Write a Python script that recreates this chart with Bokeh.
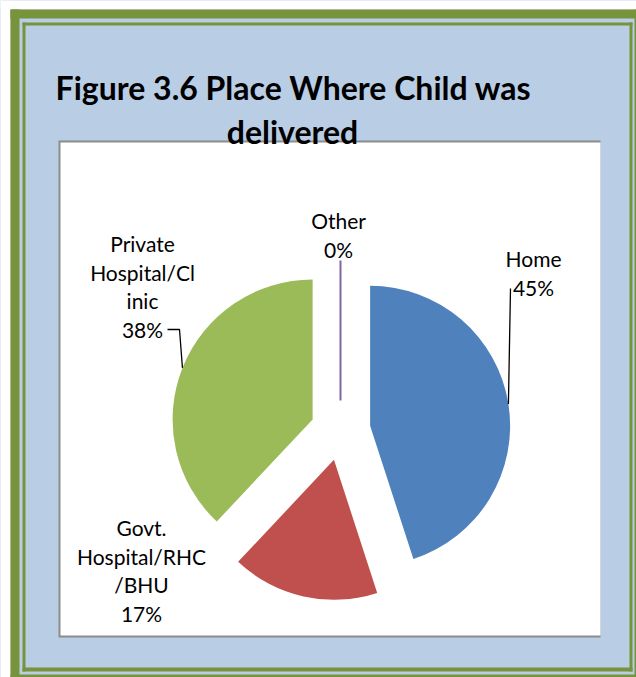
import math
from bokeh.plotting import figure
from bokeh.models import Range1d, ColumnDataSource
from bokeh.core.properties import value
from bokeh.embed import file_html
from bokeh.resources import INLINE

# ---------------- data ----------------
categories = ["Home", "Govt. Hospital/RHC /BHU", "Private Hospital/Clinic", "Other"]
shares = [45, 17, 38, 0]
colors = ["#4F81BD", "#C0504D", "#9BBB59", "#8064A2"]
label_lines = [["Home"], ["Govt.", "Hospital/RHC", "/BHU"], ["Private", "Hospital/Cl", "inic"], ["Other"]]
title_lines = ["Figure 3.6 Place Where Child was", "delivered"]

# ---------------- layout ----------------
W, H = 636, 677
X0, Y0 = 0, 0
BG = "#B9CDE5"
GREEN = "#77933C"
FONT = "Lato"

p = figure(width=W, height=H, x_range=Range1d(X0, X0 + W), y_range=Range1d(-(Y0 + H), -Y0),
           output_backend="svg", toolbar_location=None, min_border=0,
           x_axis_location=None, y_axis_location=None)
p.grid.visible = False
p.outline_line_color = None
p.background_fill_color = BG
p.border_fill_color = BG

def band(l, r, t, b, color):
    p.quad(left=l, right=r, top=-t, bottom=-b, fill_color=color, line_color=None)

# outer frame (thick + thin green)
band(0, 10, 0, 700, "white")
band(0, 700, 0, 9, "white")
band(10, 19, 9, 700, GREEN)
band(10, 700, 9, 18, GREEN)
band(634, 700, 9, 700, GREEN)
band(10, 700, 674, 700, GREEN)
band(22, 25, 22, 671, GREEN)
band(22, 632, 22, 25, GREEN)
band(629, 632, 22, 671, GREEN)
band(22, 632, 667, 671, GREEN)

# plot area
band(58, 600, 140, 637, "#8C8C8C")
band(60, 600, 142, 635, "white")

# ---------------- pie ----------------
cx, cy = 340, -430
R = 140
explode = 30
total = float(sum(shares))
xs, ys, st, en, mids = [], [], [], [], []
cum = 0.0
for v in shares:
    a0 = cum / total
    a1 = (cum + v) / total
    cum += v
    mid = (a0 + a1) / 2 * 2 * math.pi
    mids.append(mid)
    xs.append(cx + explode * math.sin(mid))
    ys.append(cy + explode * math.cos(mid))
    st.append(math.pi / 2 - 2 * math.pi * a1)
    en.append(math.pi / 2 - 2 * math.pi * a0)

nz = [i for i, v in enumerate(shares) if v > 0]
src = ColumnDataSource(dict(x=[xs[i] for i in nz], y=[ys[i] for i in nz],
                            start=[st[i] for i in nz], end=[en[i] for i in nz],
                            color=[colors[i] for i in nz]))
p.wedge(x="x", y="y", radius=R, start_angle="start", end_angle="end", direction="anticlock",
        fill_color="color", line_color=None, source=src)

# zero-size slices drawn as a line
for i, v in enumerate(shares):
    if v == 0:
        p.segment(x0=xs[i], y0=ys[i], x1=xs[i] + R * math.sin(mids[i]), y1=ys[i] + R * math.cos(mids[i]),
                  line_color=colors[i], line_width=2)

# leader lines (label anchors are layout)
leader_anchor = {0: [(510, 288)], 2: [(167, 329), (179, 329)]}
for i, pts in leader_anchor.items():
    ex = xs[i] + R * math.sin(mids[i])
    ey = ys[i] + R * math.cos(mids[i])
    lx = [q[0] for q in pts] + [ex]
    ly = [-q[1] for q in pts] + [ey]
    p.line(lx, ly, line_color="black", line_width=1.3)

# data labels
label_pos = [(533, 258), (141, 527), (142, 243), (338, 220)]
step = 28.7
tx, ty, tt = [], [], []
for i, lines in enumerate(label_lines):
    allines = lines + ["%d%%" % round(shares[i] / total * 100)]
    x, y = label_pos[i]
    for k, s in enumerate(allines):
        tx.append(x)
        ty.append(-(y + k * step))
        tt.append(s)
p.text(x=tx, y=ty, text=tt, text_font=value(FONT), text_font_size="21px",
       text_align="center", text_baseline="alphabetic", text_color="black")

# title
p.text(x=[293, 292], y=[-87, -131], text=title_lines, text_font=value(FONT), text_font_size="32px",
       text_font_style="bold", text_align="center", text_baseline="alphabetic", text_color="black")

open("out.html", "w").write(file_html(p, INLINE))
